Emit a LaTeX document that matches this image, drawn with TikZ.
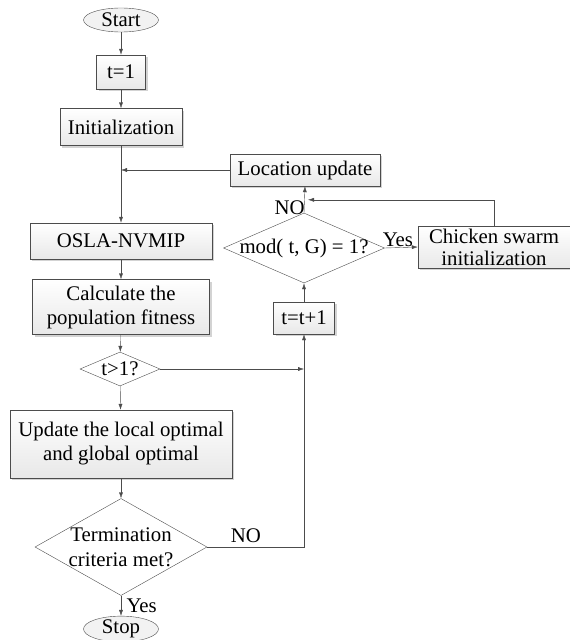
\documentclass[tikz,border=0pt]{standalone}
\usepackage{fontspec}
\setmainfont{Liberation Serif}
\usetikzlibrary{shapes.geometric,arrows.meta,shadows}

\begin{document}
\begin{tikzpicture}[x=1pt,y=-1pt,
    every node/.style={font=\fontsize{20.8}{24}\selectfont},
    procbox/.style={draw=gray!60!black, top color=white, bottom color=gray!18, drop shadow={shadow xshift=2pt, shadow yshift=-2pt, opacity=0.35}, inner sep=0, align=center},
    decision/.style={draw=gray!60!black, diamond, inner sep=0},
    terminal/.style={draw=gray!60!black, ellipse, fill=gray!10, inner sep=0},
    flow/.style={draw=gray!60!black, -{Latex[length=6pt,width=4pt]}}]
    \useasboundingbox (0,0) rectangle (570,640);

    % Main column
    \node[terminal, minimum width=75, minimum height=24] (start) at (121,20) {Start};
    \node[procbox, minimum width=49, minimum height=34] (tone) at (121,72) {t=1};
    \node[procbox, minimum width=122, minimum height=37] (init) at (121,127) {Initialization};
    \node[procbox, minimum width=182, minimum height=36] (osla) at (121,241) {OSLA-NVMIP};
    \node[procbox, minimum width=177, minimum height=55] (calc) at (121,307) {Calculate the\\population fitness};
    \node[decision, minimum width=80, minimum height=34, label={[name=tgttext]center:t>1?}] (tgt) at (120,369) {};
    \node[procbox, minimum width=222, minimum height=68] (upd) at (121,444) {Update the local optimal\\and global optimal};
    \node[decision, minimum width=172, minimum height=97, label={[name=termtext, align=center, font=\fontsize{20.8}{25}\selectfont]center:Termination\\criteria met?}] (term) at (121,547) {};
    \node[terminal, minimum width=75, minimum height=23] (stop) at (121,629) {Stop};

    % Right column
    \node[procbox, minimum width=150, minimum height=32] (loc) at (305,170) {Location update};
    \node[decision, minimum width=161, minimum height=70, label={[name=modtext]center:mod( t, G) = 1?}] (mod) at (304,248) {};
    \node[procbox, minimum width=61, minimum height=32] (tinc) at (304,318) {t=t+1};
    \node[procbox, minimum width=152, minimum height=42, font=\fontsize{20.8}{22}\selectfont] (chick) at (494,247) {Chicken swarm\\initialization};

    % Straight flow
    \draw[flow] (start) -- (tone);
    \draw[flow] (tone) -- (init);
    \draw[flow] (init) -- (osla);
    \draw[flow] (osla) -- (calc);
    \draw[flow] (calc) -- (tgt);
    \draw[flow] (tgt) -- (upd);
    \draw[flow] (upd) -- (term);
    \draw[flow] (term) -- (stop) node[pos=0.5, right=2pt] (yesstop) {Yes};

    % Loop back
    \draw[flow] (loc.west) -- (loc.west -| init.south);
    \draw[flow] (tgt.east) -- (tgt.east -| tinc.south);
    \draw[flow] (term.east) -| (tinc.south) node[pos=0.2, above=1pt] (noterm) {NO};
    \draw[flow] (tinc) -- (mod.south);
    \draw[flow] (mod.north) -- (loc.south) node[pos=0.2, left=-4pt] (nomod) {NO};
    \draw[flow] (mod.east) -- (chick.west) node[pos=0.4, above=-3pt] (yesmod) {Yes};
    \draw[flow] (chick.north) |- ([xshift=4pt, yshift=13pt]mod.north);
\end{tikzpicture}
\end{document}
